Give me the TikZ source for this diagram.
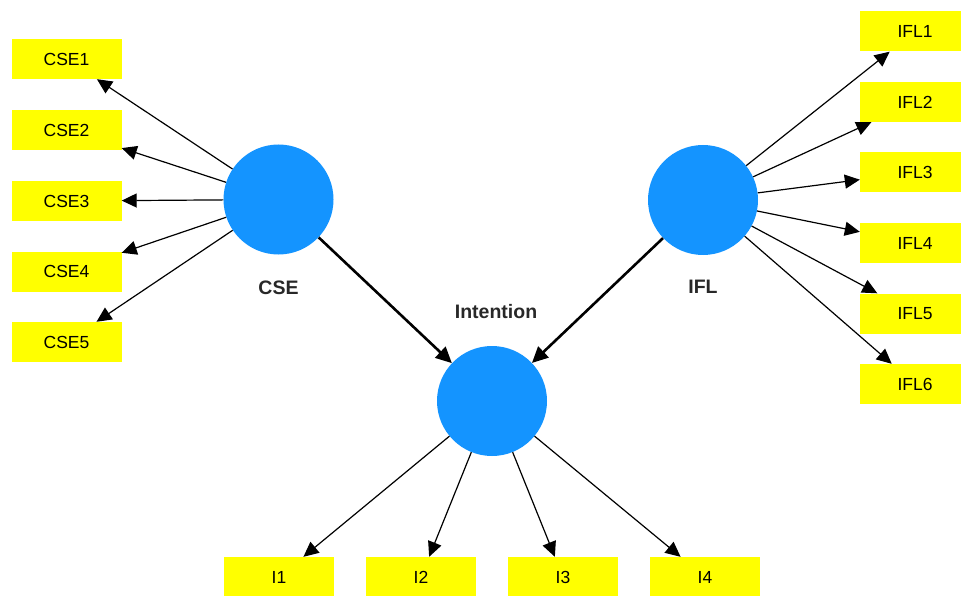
\documentclass[tikz,border=0pt]{standalone}
\usepackage{fontspec}
\setmainfont{Liberation Sans}
\usepackage{xcolor}
\usetikzlibrary{arrows.meta}
\definecolor{latentblue}{RGB}{20,148,255}
\definecolor{itemyellow}{RGB}{255,255,0}
\definecolor{labelgrey}{RGB}{40,40,40}

\tikzset{
    latent/.style={circle,fill=latentblue,minimum size=110pt,inner sep=0pt},
    item/.style={rectangle,fill=itemyellow,minimum width=110pt,minimum height=40pt,
        inner sep=0pt,font=\fontsize{17.5}{20}\selectfont},
    latentlabel/.style={font=\fontsize{19.5}{22}\selectfont\bfseries,text=labelgrey},
    loading/.style={-{Triangle[length=15pt,width=14pt]},line width=1.2pt},
    effect/.style={-{Triangle[length=16pt,width=15pt]},line width=2.6pt}
}

\begin{document}
\begin{tikzpicture}[x=1pt,y=-1pt]
    \clip (0,0) rectangle (961,596);
    % Latent variables
    \node[latent] (cse) at (278.5,199.5) {};
    \node[latent] (ifl) at (703,200) {};
    \node[latent] (intn) at (492,401) {};
    \node[latentlabel] (cselab) at (278.5,288) {CSE};
    \node[latentlabel] (ifllab) at (703,287) {IFL};
    \node[latentlabel] (intnlab) at (496,312) {Intention};
    % CSE items
    \node[item] (cse1) at (66.5,59) {CSE1};
    \node[item] (cse2) at (66.5,130) {CSE2};
    \node[item] (cse3) at (66.5,201) {CSE3};
    \node[item] (cse4) at (66.5,271.5) {CSE4};
    \node[item] (cse5) at (66.5,342) {CSE5};
    % IFL items (cut by the right edge)
    \node[item] (ifl1) at (915,31.5) {IFL1};
    \node[item] (ifl2) at (915,102) {IFL2};
    \node[item] (ifl3) at (915,172.5) {IFL3};
    \node[item] (ifl4) at (915,243) {IFL4};
    \node[item] (ifl5) at (915,313.5) {IFL5};
    \node[item] (ifl6) at (915,384) {IFL6};
    % Intention items
    \node[item] (i1) at (279,577) {I1};
    \node[item] (i2) at (421,577) {I2};
    \node[item] (i3) at (563,577) {I3};
    \node[item] (i4) at (705,577) {I4};
    % Loadings
    \draw[loading] (cse) -- (cse1);
    \draw[loading] (cse) -- (cse2);
    \draw[loading] (cse) -- (cse3);
    \draw[loading] (cse) -- (cse4);
    \draw[loading] (cse) -- (cse5);
    \draw[loading] (ifl) -- (ifl1);
    \draw[loading] (ifl) -- (ifl2);
    \draw[loading] (ifl) -- (ifl3);
    \draw[loading] (ifl) -- (ifl4);
    \draw[loading] (ifl) -- (ifl5);
    \draw[loading] (ifl) -- (ifl6);
    \draw[loading] (intn) -- (i1);
    \draw[loading] (intn) -- (i2);
    \draw[loading] (intn) -- (i3);
    \draw[loading] (intn) -- (i4);
    % Paths into Intention
    \draw[effect] (cse) -- (intn);
    \draw[effect] (ifl) -- (intn);
\end{tikzpicture}
\end{document}
